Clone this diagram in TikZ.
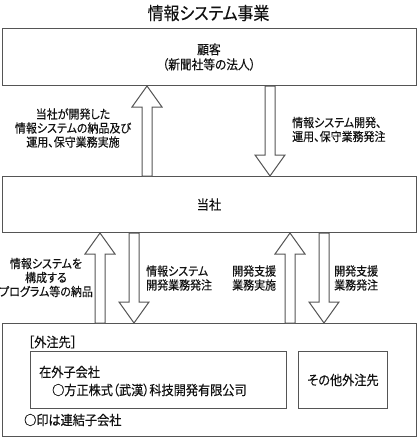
\documentclass[tikz,border=0pt]{standalone}
\usepackage{fontspec}
\setmainfont{Noto Sans CJK JP}[RawFeature=+palt, FakeStretch=0.9, FakeBold=0.3]
\usetikzlibrary{calc}
\definecolor{linec}{HTML}{555555}
\definecolor{txtc}{HTML}{111111}
\tikzset{
  box/.style={draw=linec, line width=1pt, inner sep=0pt, anchor=north west, text=txtc},
  blk/.style={draw=linec, line width=1pt, fill=white, line join=miter},
  lbl/.style={font=\fontsize{12.2}{14}\selectfont, align=center, inner sep=0pt, text=txtc},
  lbll/.style={lbl, align=left, anchor=west},
  txt/.style={font=\fontsize{13.5}{18}\selectfont, inner sep=0pt, text=txtc},
}
\newcommand\blkarrow[3]{%
  \draw[blk] ($(#1)+(-5,0)$) -- ($(#2)+(-5,#3*21)$) -- ($(#2)+(-15,#3*21)$) -- (#2)
    -- ($(#2)+(15,#3*21)$) -- ($(#2)+(5,#3*21)$) -- ($(#1)+(5,0)$) -- cycle;}
\begin{document}
\begin{tikzpicture}[x=1pt,y=-1pt]
\useasboundingbox (0,0) rectangle (417,437);
% title
\node[txt, font=\fontsize{17.7}{18}\selectfont] (title) at (208.5,13) {情報システム事業};
% boxes
\node[box, minimum width=414pt, minimum height=57pt, align=center,
      font=\fontsize{13}{15}\selectfont] (kokyaku) at (1.5,28) {顧客\\（新聞社等の法人）};
\node[box, minimum width=414pt, minimum height=56pt,
      font=\fontsize{13.5}{15}\selectfont] (tosha) at (1.5,176) {当社};
\node[box, minimum width=414pt, minimum height=112.5pt] (gaibu) at (1.5,323) {};
\node[box, minimum width=256pt, minimum height=57pt] (zaigaibox) at (29.5,351) {};
\node[box, minimum width=89pt, minimum height=57pt] (sonotabox) at (298,351) {};
% arrow positions
\coordinate (xa) at (147,0);
\coordinate (xb) at (270,0);
\coordinate (xc) at (100,0);
\coordinate (xd) at (134,0);
\coordinate (xe) at (290,0);
\coordinate (xf) at (324,0);
\blkarrow{tosha.north -| xa}{kokyaku.south -| xa}{1}
\blkarrow{kokyaku.south -| xb}{tosha.north -| xb}{-1}
\blkarrow{gaibu.north -| xc}{tosha.south -| xc}{1}
\blkarrow{tosha.south -| xd}{gaibu.north -| xd}{-1}
\blkarrow{gaibu.north -| xe}{tosha.south -| xe}{1}
\blkarrow{tosha.south -| xf}{gaibu.north -| xf}{-1}
% labels
\node[lbl] (l1) at (73,128) {当社が開発した\\情報システムの納品及び\\運用、保守業務実施};
\node[lbll] (l2) at (292,129.5) {情報システム開発、\\運用、保守業務発注};
\node[lbl] (l3) at (46,277.5) {情報システムを\\構成する\\プログラム等の納品};
\node[lbll] (l4) at (146,278) {情報システム\\開発業務発注};
\node[lbll] (l5) at (232,278) {開発支援\\業務実施};
\node[lbll] (l6) at (334,278) {開発支援\\業務発注};
% bottom texts
\node[txt, anchor=west] (gaichu) at (28,342) {［外注先］};
\node[txt, anchor=west] (zaigai) at (39,372) {在外子会社};
\node[txt, anchor=west] (hosei) at (52,390) {○方正株式（武漢）科技開発有限公司};
\node[txt] (sonota) at (sonotabox.center) {その他外注先};
\node[txt, anchor=west] (shirushi) at (24,420) {○印は連結子会社};
\end{tikzpicture}
\end{document}
